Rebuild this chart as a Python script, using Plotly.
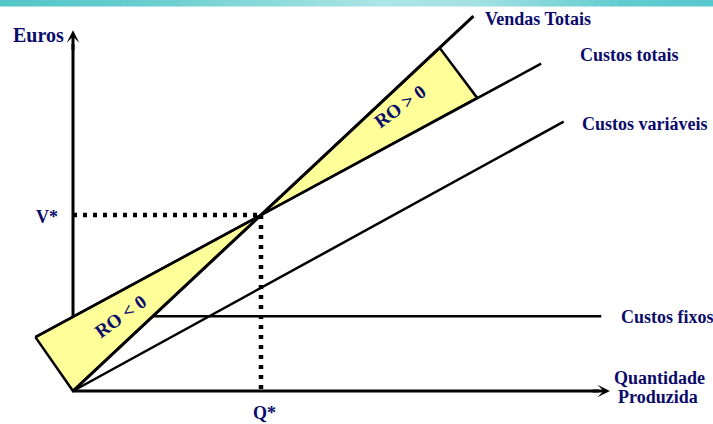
import plotly.graph_objects as go

# ---- Data (quantity Q, euros V); break-even at Q* = V* = 100 ----
break_even_q = 100
break_even_v = 100

vendas_q = [0, 213]
vendas_v = [0, 213]

totais_q = [-20, 100, 249]
totais_v = [30.6, 100, 186]

variaveis_q = [0, 261]
variaveis_v = [0, 153]

fixos_q = [0, 281]
fixos_v = [42.5, 42.5]

ro_neg_q = [-20, 0, 100, -20]
ro_neg_v = [30.6, 0, 100, 30.6]

ro_pos_q = [100, 195, 215, 100]
ro_pos_v = [100, 195, 166.5, 100]

axis_x_end = 285.6
axis_y_end = 205

# labels
series_labels = ["Vendas Totais", "Custos totais", "Custos variáveis", "Custos fixos"]
series_label_q = [218, 268.6, 269.7, 290.4]
series_label_v = [211.6, 190.9, 151.7, 42]
tick_x_label = "Q*"
tick_y_label = "V*"
axis_y_title = "Euros"
axis_x_title = ["Quantidade", "Produzida"]
region_labels = ["RO < 0", "RO > 0"]
region_label_q = [25, 173.9]
region_label_v = [42.6, 161.5]

NAVY = "#0b0b6b"
FONT = "Liberation Serif"
LW = 2.5

fig = go.Figure()

# axes lines (drawn as traces so the yellow areas cover them)
fig.add_trace(go.Scatter(x=[0, 0], y=[0, axis_y_end - 8], mode="lines",
                         line=dict(color="black", width=3), hoverinfo="skip"))
fig.add_trace(go.Scatter(x=[0, axis_x_end - 6], y=[0, 0], mode="lines",
                         line=dict(color="black", width=3), hoverinfo="skip"))

# fixed and variable costs
fig.add_trace(go.Scatter(x=fixos_q, y=fixos_v, mode="lines",
                         line=dict(color="black", width=LW), hoverinfo="skip"))
fig.add_trace(go.Scatter(x=variaveis_q, y=variaveis_v, mode="lines",
                         line=dict(color="black", width=LW), hoverinfo="skip"))

# dotted break-even guides
fig.add_trace(go.Scatter(x=[0, break_even_q], y=[break_even_v, break_even_v], mode="lines",
                         line=dict(color="black", width=4.5, dash="4px,6px"), hoverinfo="skip"))
fig.add_trace(go.Scatter(x=[break_even_q, break_even_q], y=[break_even_v, 0], mode="lines",
                         line=dict(color="black", width=4.5, dash="4px,6px"), hoverinfo="skip"))

# yellow regions
for qs, vs in [(ro_neg_q, ro_neg_v), (ro_pos_q, ro_pos_v)]:
    fig.add_trace(go.Scatter(x=qs, y=vs, mode="lines", fill="toself",
                             fillcolor="#FFFF99",
                             line=dict(color="black", width=LW), hoverinfo="skip"))

# total costs and total sales
fig.add_trace(go.Scatter(x=totais_q, y=totais_v, mode="lines",
                         line=dict(color="black", width=LW), hoverinfo="skip"))
fig.add_trace(go.Scatter(x=vendas_q, y=vendas_v, mode="lines",
                         line=dict(color="black", width=3), hoverinfo="skip"))

annotations = []
# arrow heads
annotations.append(dict(x=0, y=axis_y_end, ax=0, ay=axis_y_end - 12, xref="x", yref="y",
                        axref="x", ayref="y", text="", showarrow=True, arrowhead=3,
                        arrowsize=0.7, arrowwidth=3, arrowcolor="black"))
annotations.append(dict(x=axis_x_end, y=0, ax=axis_x_end - 10, ay=0, xref="x", yref="y",
                        axref="x", ayref="y", text="", showarrow=True, arrowhead=3,
                        arrowsize=0.7, arrowwidth=3, arrowcolor="black"))

def txt(t, x, y, size=18, xanchor="center", angle=0):
    return dict(x=x, y=y, xref="x", yref="y", text="<b>%s</b>" % t, showarrow=False,
                xanchor=xanchor, yanchor="middle", textangle=angle,
                font=dict(family=FONT, size=size, color=NAVY))

for t, q, v in zip(series_labels, series_label_q, series_label_v):
    annotations.append(txt(t, q, v, xanchor="left"))
annotations.append(txt(axis_y_title, -18.35, 202.3, size=20))
annotations.append(txt(tick_y_label, -6.9, break_even_v - 1, xanchor="right"))
annotations.append(txt(tick_x_label, break_even_q + 2, -12.5))
annotations.append(txt(axis_x_title[0], 311.7, 7.3))
annotations.append(txt(axis_x_title[1], 311.2, -3.4))
for t, q, v in zip(region_labels, region_label_q, region_label_v):
    annotations.append(txt(t, q, v, size=19, angle=-36))

# top gradient bar
stops = [(0, (84, 198, 200)), (150, (105, 206, 207)), (380, (172, 229, 229)),
         (470, (165, 226, 227)), (620, (98, 205, 208)), (713, (86, 200, 205))]
def col(px):
    for (x0, c0), (x1, c1) in zip(stops[:-1], stops[1:]):
        if x0 <= px <= x1:
            t = (px - x0) / (x1 - x0)
            return "rgb(%d,%d,%d)" % tuple(round(a + (b - a) * t) for a, b in zip(c0, c1))
    return "rgb(86,200,205)"
shapes = []
n = 90
for i in range(n):
    x0 = 713 * i / n
    x1 = 713 * (i + 1) / n
    shapes.append(dict(type="rect", xref="paper", yref="paper",
                       x0=x0 / 713, x1=x1 / 713 + 0.001, y0=1 - 6.5 / 424, y1=1,
                       fillcolor=col((x0 + x1) / 2), line=dict(width=0), layer="below"))

fig.update_layout(
    width=713, height=424,
    margin=dict(l=0, r=0, t=0, b=0),
    paper_bgcolor="white", plot_bgcolor="white",
    showlegend=False,
    xaxis=dict(range=[-73 / 1.88, 640 / 1.88], visible=False, fixedrange=True),
    yaxis=dict(range=[-33 / 1.76, 391 / 1.76], visible=False, fixedrange=True),
    annotations=annotations,
    shapes=shapes,
)

fig.write_html("out.html", config={"displayModeBar": False},
               post_script="document.body.style.margin='0';document.body.style.overflow='hidden';")
